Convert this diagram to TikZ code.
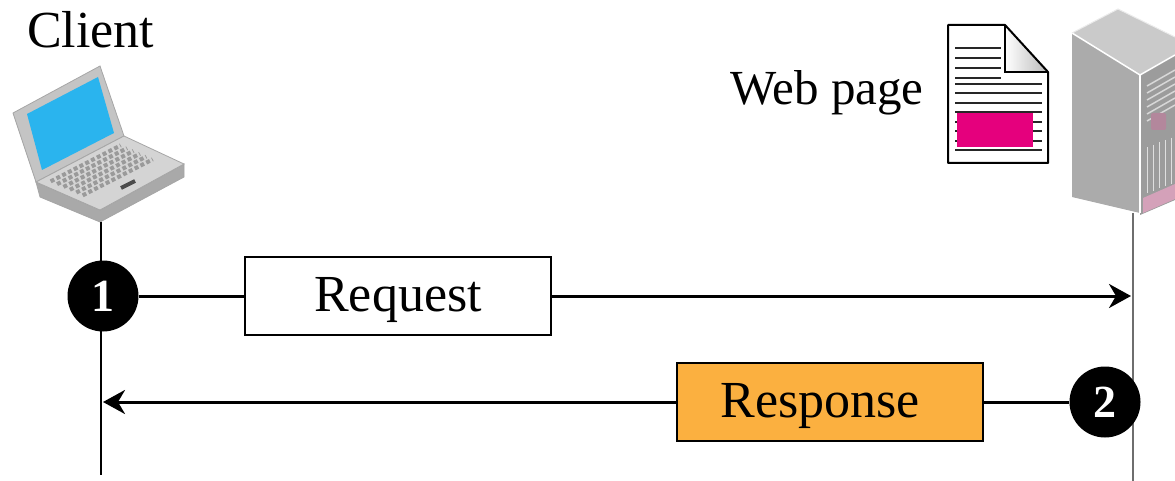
\documentclass[tikz,border=0pt]{standalone}
\usepackage{fontspec}
\setmainfont{Liberation Serif}
\usetikzlibrary{arrows.meta}
\definecolor{screenColor}{HTML}{2AB4EE}
\definecolor{lidColor}{HTML}{C4C4C4}
\definecolor{deckColor}{HTML}{D4D4D4}
\definecolor{baseColor}{HTML}{A9A9A9}
\definecolor{keyColor}{HTML}{9A9A9A}
\definecolor{serverTopColor}{HTML}{CACACA}
\definecolor{serverLeftColor}{HTML}{ABABAB}
\definecolor{serverRightColor}{HTML}{9C9C9C}
\definecolor{grilleColor}{HTML}{D8D8D8}
\definecolor{ledColor}{HTML}{C98AA8}
\definecolor{pageMarkColor}{HTML}{E5007D}
\definecolor{responseBgColor}{HTML}{FBB040}
\definecolor{serverLineColor}{HTML}{6E6E6E}
\def\textClient{Client}
\def\textPage{Web page}
\def\textRequest{Request}
\def\textResponse{Response}
\tikzset{
  lifeline/.style={line width=2pt},
  msgLine/.style={line width=3pt},
  msgArrow/.style={line width=3pt, -{Stealth[length=22pt, width=24pt, inset=7pt]}},
  msgBox/.style={draw, line width=2.5pt, minimum width=306pt, minimum height=78pt,
    inner sep=0pt, text height=30pt, text depth=0pt, font=\fontsize{52}{60}\selectfont},
  stepDot/.style={circle, fill=black, minimum size=71pt, inner sep=0pt, text=white,
    text height=31pt, text depth=0pt, font=\fontsize{46}{50}\selectfont\bfseries},
  labelText/.style={anchor=base west, inner sep=0pt, font=\fontsize{52}{60}\selectfont},
  keyRow/.style={color=keyColor, line width=4pt, dash pattern=on 4pt off 2.5pt},
  pageLine/.style={color=black!85, line width=2pt},
}

\begin{document}
\begin{tikzpicture}[x=1pt,y=-1pt]
\useasboundingbox (0,0) rectangle (1175,481);

% client laptop
\begin{scope}
\fill[color=lidColor, draw=gray!70, line width=0.8pt]
(13,113) -- (100,66) -- (124,136) -- (36,182) -- cycle;
\fill[color=screenColor] (27,114) -- (98,77) -- (114,133) -- (42,170) -- cycle;
\fill[color=baseColor, draw=gray!70, line width=0.8pt]
(36,182) -- (100,210) -- (184,164) -- (184,177) -- (100,222) -- (40,197) -- cycle;
\fill[color=deckColor, draw=gray!70, line width=0.8pt]
(36,182) -- (124,136) -- (184,164) -- (100,210) -- cycle;
\foreach \r in {0.12,0.22,...,0.65}
\draw[keyRow] ({43+64*\r},{178+28*\r}) -- ({113+64*\r},{142+28*\r});
\draw[color=black!70, line width=4pt] (121,188) -- (135,181);
\end{scope}
\node[labelText] (clientLabel) at (27,48) {\textClient};

% web page
\begin{scope}
\shade[left color=white, right color=gray!55] (1005,25) -- (1005,72) -- (1048,72) -- cycle;
\foreach \y in {48,58,68,78}
\draw[pageLine] (955,\y) -- (1001,\y);
\foreach \y in {84,93,103,112,122,131,141,150}
\draw[pageLine] (955,\y) -- (1042,\y);
\fill[color=pageMarkColor] (957,113) rectangle (1033,147);
\draw[line width=2pt, line join=round] (948,25) -- (1005,25) -- (1048,72) -- (1048,163) -- (948,163) -- cycle;
\draw[line width=1.5pt] (1005,25) -- (1005,72) -- (1048,72);
\end{scope}
\node[labelText, font=\fontsize{49}{56}\selectfont] (pageLabel) at (730,105) {\textPage};

% server
\begin{scope}
\fill[color=serverTopColor] (1072,33) -- (1118,9) -- (1175,37) -- (1175,55) -- (1140,75) -- cycle;
\fill[color=serverLeftColor] (1072,33) -- (1140,75) -- (1140,213) -- (1072,197) -- cycle;
\fill[color=serverRightColor] (1140,75) -- (1175,55) -- (1175,200) -- (1140,215) -- cycle;
\foreach \y in {86,93,...,121}
\draw[color=grilleColor, line width=1.5pt] (1147,\y) -- (1175,{\y-16});
\fill[color=ledColor!70!gray, rounded corners=2pt] (1151,113) rectangle (1166,130);
\foreach \x in {1147,1153,...,1173}
\draw[color=white!75!gray, line width=1pt] (\x,{150-(\x-1140)*0.4}) -- (\x,{196-(\x-1140)*0.4});
\fill[color=ledColor!80] (1143,198) -- (1175,184) -- (1175,199) -- (1143,213) -- cycle;
\draw[color=white, line width=1.5pt] (1072,33) -- (1140,75) -- (1175,55);
\draw[color=white, line width=1.5pt] (1140,75) -- (1140,213);
\draw[color=white!85!gray, line width=1pt] (1072,33) -- (1118,9) -- (1175,37);
\end{scope}

% lifelines
\coordinate (clientTop) at (101,222);
\coordinate (clientBottom) at (101,475);
\coordinate (serverTop) at (1133,213);
\coordinate (serverBottom) at (1133,481);
\draw[lifeline] (clientTop) -- (clientBottom);
\draw[lifeline, color=serverLineColor] (serverTop) -- (serverBottom);

% request
\node[stepDot] (stepA) at (103,296) {1};
\node[msgBox, fill=white] (request) at (398,296) {\textRequest};
\coordinate (requestEnd) at (1131,296);
\draw[msgLine] (stepA) -- (request);
\draw[msgArrow] (request) -- (requestEnd);

% response
\node[stepDot] (stepB) at (1105,402) {2};
\node[msgBox, fill=responseBgColor] (response) at (830,402) {\hspace*{-20pt}\textResponse};
\coordinate (responseEnd) at (103,402);
\draw[msgLine] (stepB) -- (response);
\draw[msgArrow] (response) -- (responseEnd);

\end{tikzpicture}
\end{document}
